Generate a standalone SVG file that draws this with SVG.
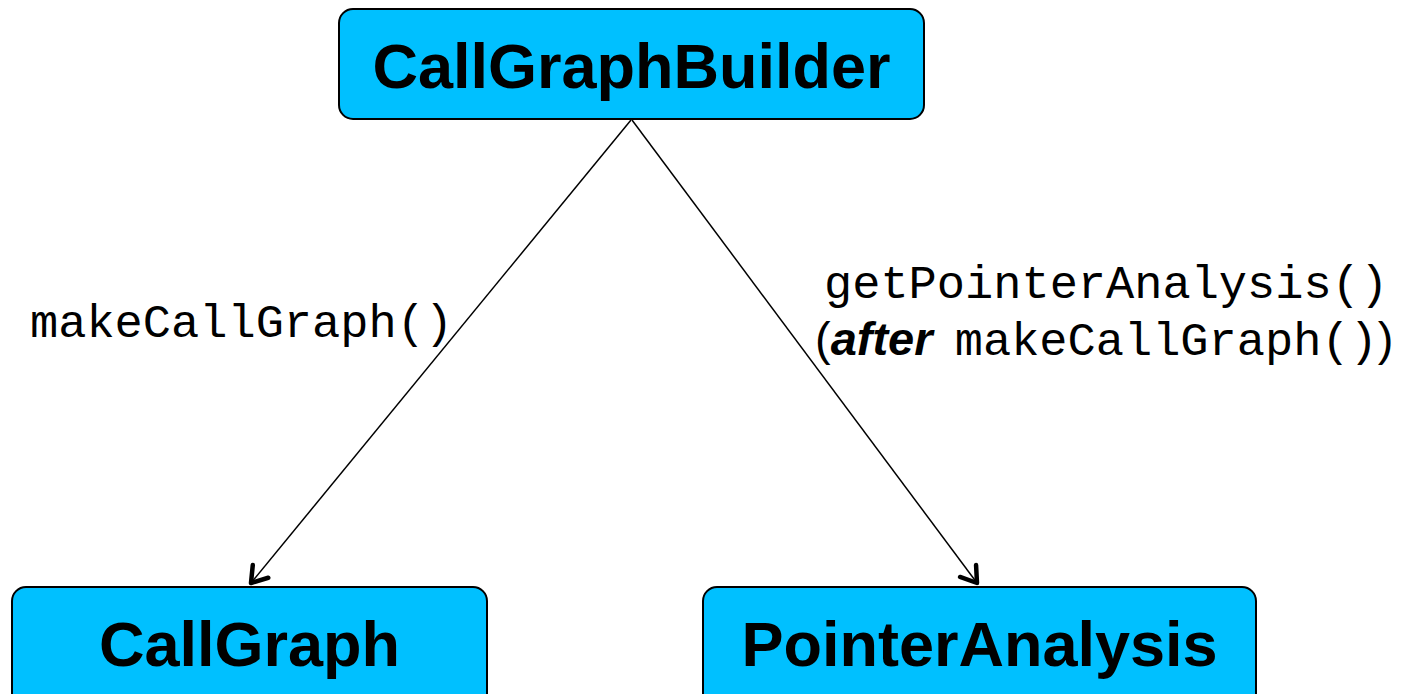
<svg xmlns="http://www.w3.org/2000/svg" width="1407" height="694" viewBox="0 0 1407 694">
  <style>
    .box { fill: #00C0FF; stroke: #000; stroke-width: 2; }
    .title { font-family: "Liberation Sans", Arial, sans-serif; font-weight: bold; font-size: 63px; fill: #000; text-anchor: middle; }
    .mono { font-family: "Liberation Mono", "Courier New", monospace; font-size: 47px; fill: #000; }
    .sans { font-family: "Liberation Sans", Arial, sans-serif; font-size: 47px; fill: #000; }
    .edge { stroke: #000; stroke-width: 1.5; fill: none; }
  </style>
  <defs>
    <!-- open V arrowhead drawn with a heavy rounded stroke -->
    <marker id="openArrow" viewBox="-22 -16 26 32" refX="0" refY="0" markerWidth="26" markerHeight="32" markerUnits="userSpaceOnUse" orient="auto" overflow="visible">
      <path d="M -15 -10 L 0 0 L -15 10" stroke="#000" stroke-width="4.5" fill="none" stroke-linecap="round" stroke-linejoin="round"/>
    </marker>
  </defs>

  <g id="connectors">
    <line class="edge" x1="631" y1="120" x2="251" y2="583" marker-end="url(#openArrow)"/>
    <line class="edge" x1="632" y1="120" x2="977" y2="583" marker-end="url(#openArrow)"/>
    <text class="mono" x="30" y="337">makeCallGraph()</text>
    <text class="mono" x="824" y="298">getPointerAnalysis()</text>
    <text x="815" y="355"><tspan class="sans">(</tspan><tspan class="sans" font-weight="bold" font-style="italic">after</tspan><tspan class="mono" dx="-6"> makeCallGraph()</tspan><tspan class="sans">)</tspan></text>
  </g>

  <g id="node-builder">
    <rect class="box" x="339" y="9" width="585" height="110" rx="14"/>
    <text class="title" x="631.5" y="88">CallGraphBuilder</text>
  </g>

  <g id="node-callgraph">
    <rect class="box" x="12" y="587" width="475" height="120" rx="14"/>
    <text class="title" x="249.5" y="666">CallGraph</text>
  </g>

  <g id="node-pointer">
    <rect class="box" x="703" y="587" width="553" height="120" rx="14"/>
    <text class="title" x="979.5" y="666">PointerAnalysis</text>
  </g>
</svg>
